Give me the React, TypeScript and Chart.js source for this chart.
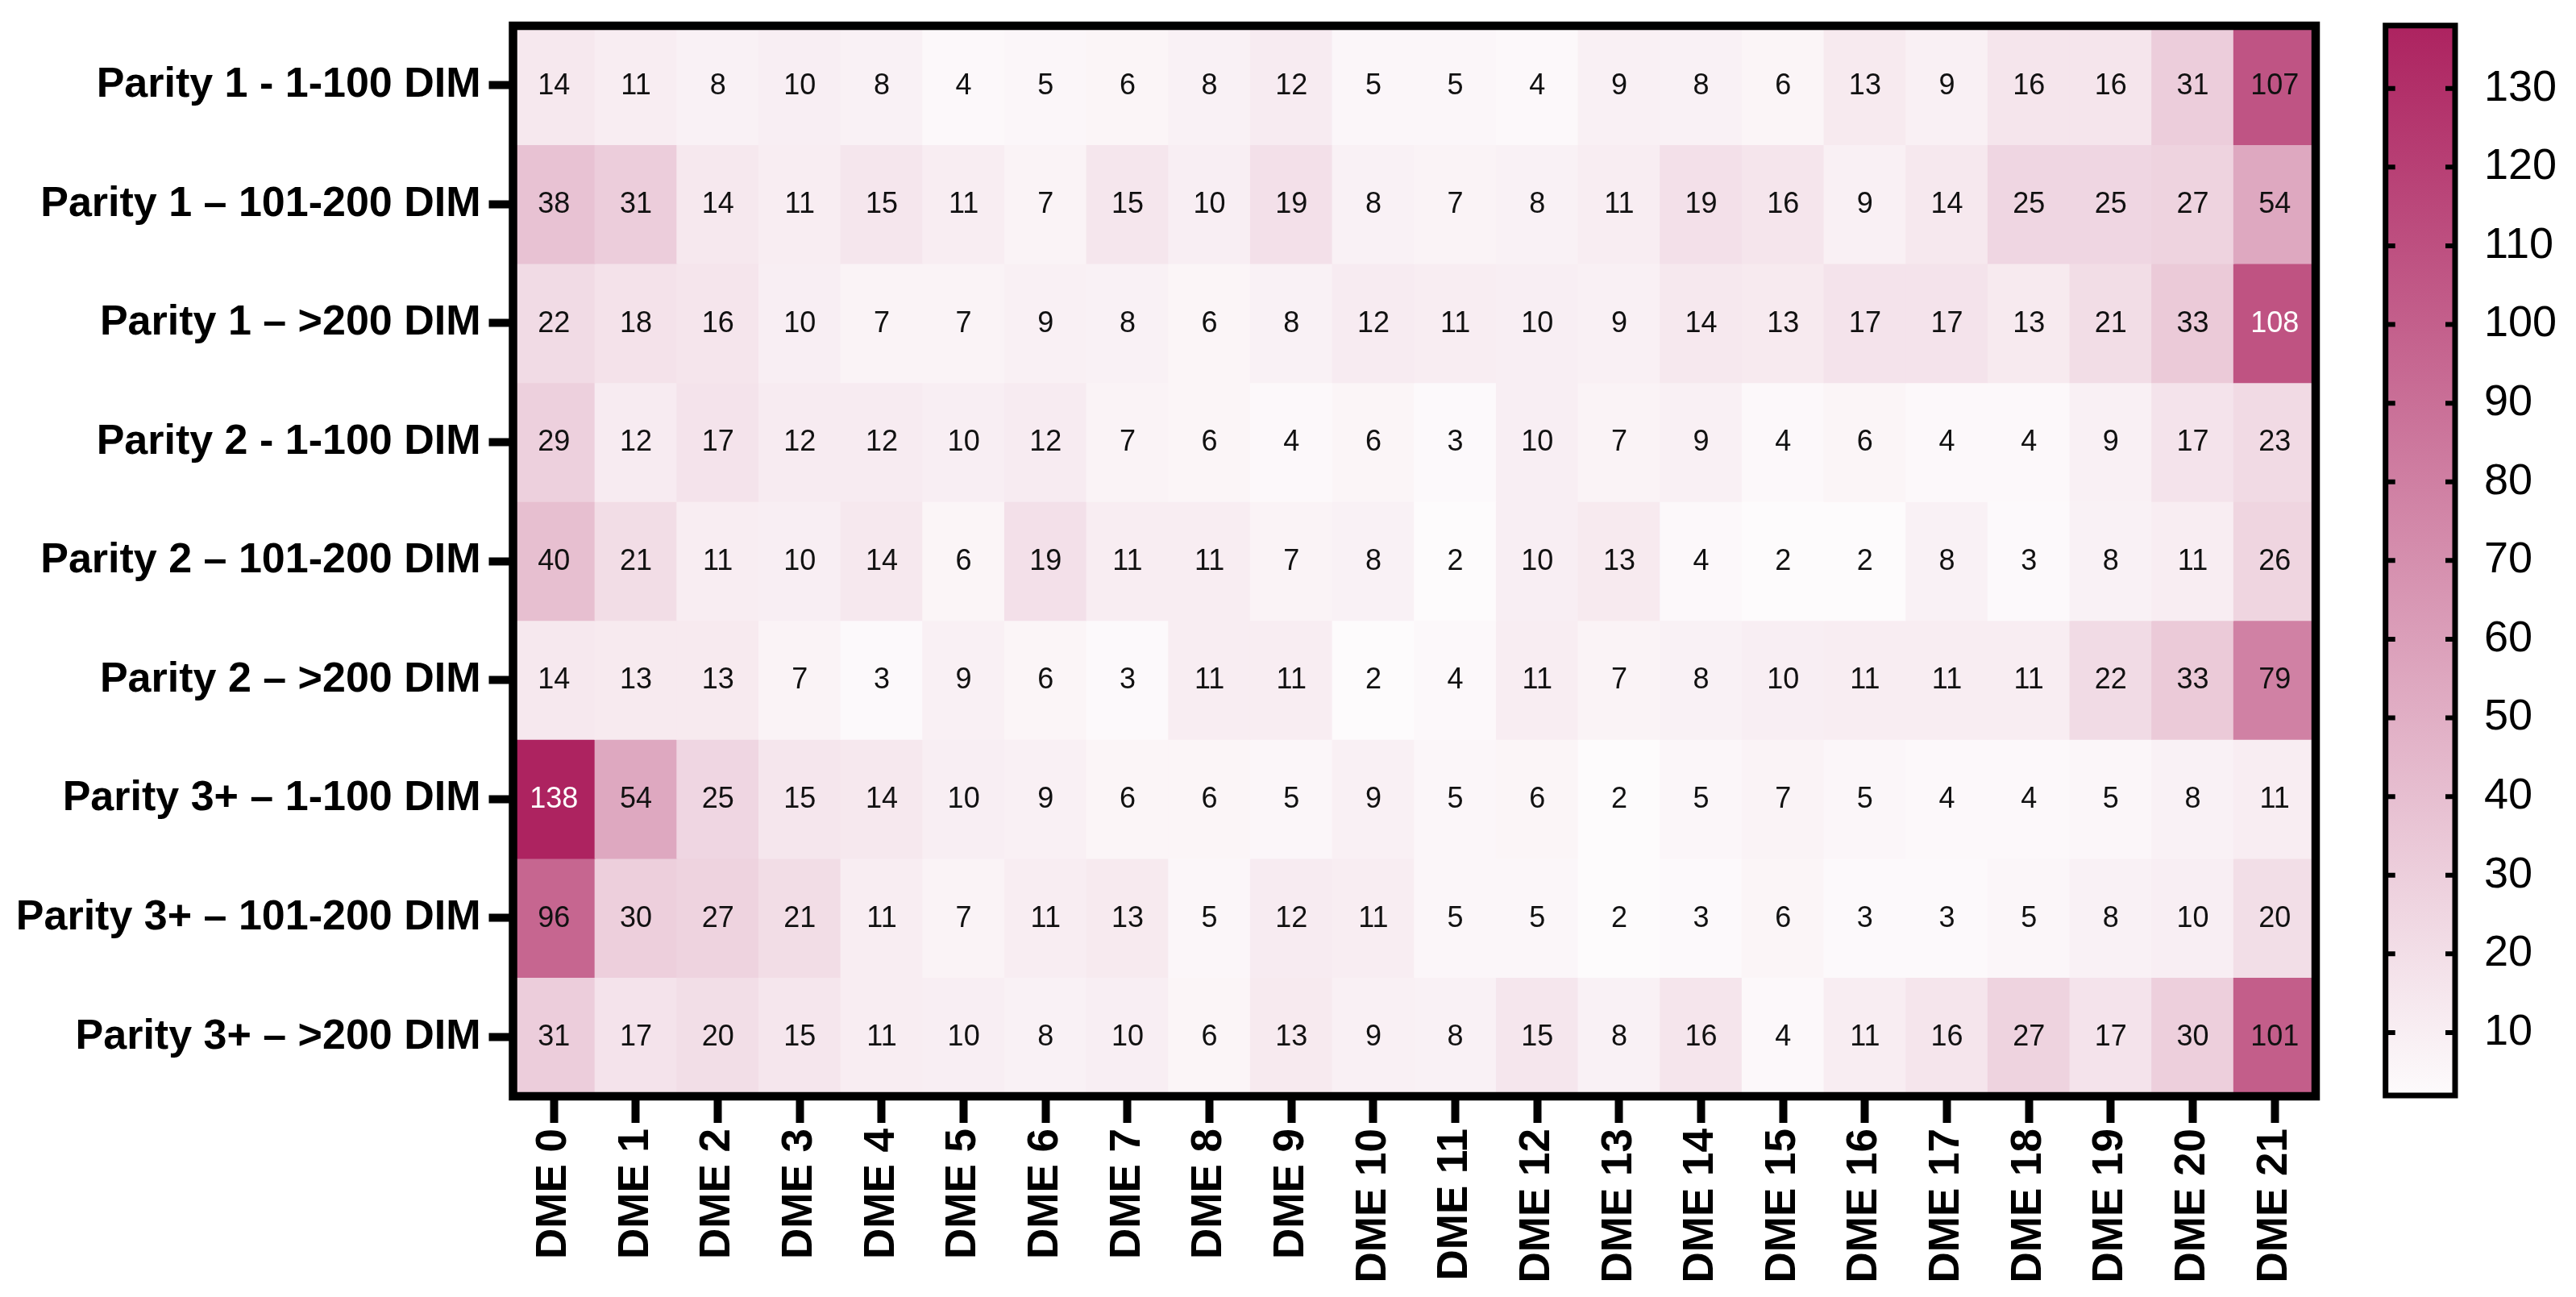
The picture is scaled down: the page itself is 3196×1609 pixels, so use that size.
import React, { useEffect, useRef } from "react";
import { Chart, registerables } from "chart.js";

Chart.register(...registerables);

// ---------- data ----------
const colLabels = [
  "DME 0", "DME 1", "DME 2", "DME 3", "DME 4", "DME 5", "DME 6", "DME 7",
  "DME 8", "DME 9", "DME 10", "DME 11", "DME 12", "DME 13", "DME 14", "DME 15",
  "DME 16", "DME 17", "DME 18", "DME 19", "DME 20", "DME 21",
];

const rowLabels = [
  "Parity 1 - 1-100 DIM",
  "Parity 1 – 101-200 DIM",
  "Parity 1 – >200 DIM",
  "Parity 2 - 1-100 DIM",
  "Parity 2 – 101-200 DIM",
  "Parity 2 – >200 DIM",
  "Parity 3+ – 1-100 DIM",
  "Parity 3+ – 101-200 DIM",
  "Parity 3+ – >200 DIM",
];

const p1Early = [14, 11, 8, 10, 8, 4, 5, 6, 8, 12, 5, 5, 4, 9, 8, 6, 13, 9, 16, 16, 31, 107];
const p1Mid = [38, 31, 14, 11, 15, 11, 7, 15, 10, 19, 8, 7, 8, 11, 19, 16, 9, 14, 25, 25, 27, 54];
const p1Late = [22, 18, 16, 10, 7, 7, 9, 8, 6, 8, 12, 11, 10, 9, 14, 13, 17, 17, 13, 21, 33, 108];
const p2Early = [29, 12, 17, 12, 12, 10, 12, 7, 6, 4, 6, 3, 10, 7, 9, 4, 6, 4, 4, 9, 17, 23];
const p2Mid = [40, 21, 11, 10, 14, 6, 19, 11, 11, 7, 8, 2, 10, 13, 4, 2, 2, 8, 3, 8, 11, 26];
const p2Late = [14, 13, 13, 7, 3, 9, 6, 3, 11, 11, 2, 4, 11, 7, 8, 10, 11, 11, 11, 22, 33, 79];
const p3Early = [138, 54, 25, 15, 14, 10, 9, 6, 6, 5, 9, 5, 6, 2, 5, 7, 5, 4, 4, 5, 8, 11];
const p3Mid = [96, 30, 27, 21, 11, 7, 11, 13, 5, 12, 11, 5, 5, 2, 3, 6, 3, 3, 5, 8, 10, 20];
const p3Late = [31, 17, 20, 15, 11, 10, 8, 10, 6, 13, 9, 8, 15, 8, 16, 4, 11, 16, 27, 17, 30, 101];

const values = [p1Early, p1Mid, p1Late, p2Early, p2Mid, p2Late, p3Early, p3Mid, p3Late];

const colorbarTicks = [10, 20, 30, 40, 50, 60, 70, 80, 90, 100, 110, 120, 130];
const CB_MIN = 2;
const CB_MAX = 138;
const WHITE_TEXT_FROM = 108;

// ---------- styling ----------
const LOW_RGB = [253, 251, 252];
const HIGH_RGB = [173, 35, 96];
const FONT = "'Liberation Sans', Arial, Helvetica, sans-serif";

const W = 3196;
const H = 1609;
const MAIN_W = 2900;
const PLOT_LEFT = 636.5;
const PLOT_RIGHT = 2873;
const PLOT_TOP = 32;
const PLOT_BOTTOM = 1360;

function colorFor(v: number): string {
  let t = (v - CB_MIN) / (CB_MAX - CB_MIN);
  t = Math.max(0, Math.min(1, t));
  const c = LOW_RGB.map((lo, k) => Math.round(lo + (HIGH_RGB[k] - lo) * t));
  return `rgb(${c[0]},${c[1]},${c[2]})`;
}

function zeroPadding(s: any) {
  s.paddingTop = 0;
  s.paddingBottom = 0;
  s.paddingLeft = 0;
  s.paddingRight = 0;
}

const cellTextPlugin = {
  id: "cellText",
  afterDatasetsDraw(chart: any) {
    const ctx = chart.ctx;
    ctx.save();
    ctx.font = `36px ${FONT}`;
    ctx.textAlign = "center";
    ctx.textBaseline = "middle";
    values.forEach((row, i) => {
      const meta = chart.getDatasetMeta(i);
      meta.data.forEach((bar: any, j: number) => {
        const p = bar.getProps(["x", "y", "base"], true);
        ctx.fillStyle = row[j] >= WHITE_TEXT_FROM ? "#ffffff" : "#111111";
        ctx.fillText(String(row[j]), p.x, (p.y + p.base) / 2 + 1);
      });
    });
    ctx.restore();
  },
};

const frameMainPlugin = {
  id: "frameMain",
  afterDraw(chart: any) {
    const { left, top, right, bottom } = chart.chartArea;
    const ctx = chart.ctx;
    ctx.save();
    ctx.strokeStyle = "#000";
    ctx.lineWidth = 10.5;
    ctx.lineJoin = "miter";
    ctx.strokeRect(left, top, right - left, bottom - top);
    ctx.restore();
  },
};

const colorbarFramePlugin = {
  id: "cbFrame",
  afterDatasetsDraw(chart: any) {
    const { left, top, right, bottom } = chart.chartArea;
    const ctx = chart.ctx;
    const ys = chart.scales.y;
    ctx.save();
    ctx.strokeStyle = "#000";
    ctx.lineWidth = 6;
    colorbarTicks.forEach((v) => {
      const y = ys.getPixelForValue(v);
      ctx.beginPath();
      ctx.moveTo(left, y);
      ctx.lineTo(left + 12, y);
      ctx.moveTo(right - 12, y);
      ctx.lineTo(right, y);
      ctx.stroke();
    });
    ctx.lineWidth = 7;
    ctx.strokeRect(left, top, right - left, bottom - top);
    ctx.restore();
  },
};

export default function App() {
  const mainRef = useRef<HTMLCanvasElement | null>(null);
  const cbRef = useRef<HTMLCanvasElement | null>(null);

  useEffect(() => {
    if (!mainRef.current || !cbRef.current) return;

    const main = new Chart(mainRef.current, {
      type: "bar",
      data: {
        labels: colLabels,
        datasets: values.map((row, i) => ({
          label: rowLabels[i],
          data: row.map(() => [i, i + 1]),
          backgroundColor: row.map(colorFor),
          borderWidth: 0,
          grouped: false,
          barPercentage: 1,
          categoryPercentage: 1,
          inflateAmount: 0.5,
        })) as any,
      },
      options: {
        animation: false,
        responsive: false,
        devicePixelRatio: 1,
        events: [],
        layout: {
          padding: { left: 0, top: PLOT_TOP, right: MAIN_W - PLOT_RIGHT, bottom: 0 },
        },
        plugins: {
          legend: { display: false },
          tooltip: { enabled: false },
        },
        scales: {
          x: {
            type: "category",
            offset: true,
            grid: {
              offset: false,
              drawOnChartArea: false,
              drawTicks: true,
              tickLength: 33,
              tickWidth: 10,
              tickColor: "#000",
            },
            border: { display: false },
            ticks: {
              autoSkip: false,
              minRotation: 90,
              maxRotation: 90,
              padding: 7,
              color: "#000",
              font: { family: FONT, size: 53, weight: "bold" },
            },
            afterFit: (s: any) => {
              s.height = H - PLOT_BOTTOM;
              zeroPadding(s);
            },
          },
          y: {
            type: "linear",
            min: 0,
            max: rowLabels.length,
            reverse: true,
            grid: {
              drawOnChartArea: false,
              drawTicks: true,
              tickLength: 30,
              tickWidth: 10,
              tickColor: "#000",
            },
            border: { display: false },
            ticks: {
              autoSkip: false,
              padding: 10,
              color: "#000",
              font: { family: FONT, size: 52, weight: "bold" },
              callback: (_v: any, idx: number) => rowLabels[idx],
            },
            afterBuildTicks: (s: any) => {
              s.ticks = rowLabels.map((_, i) => ({ value: i + 0.5 }));
            },
            afterFit: (s: any) => {
              s.width = PLOT_LEFT;
              zeroPadding(s);
            },
          },
        },
      } as any,
      plugins: [cellTextPlugin, frameMainPlugin],
    });

    const cbLeft = 2959.7 - MAIN_W;
    const cbRight = 3046 - MAIN_W;
    const cbWidth = W - MAIN_W;

    const cb = new Chart(cbRef.current, {
      type: "bar",
      data: {
        labels: [""],
        datasets: [
          {
            data: [[CB_MIN, CB_MAX]] as any,
            backgroundColor: (c: any) => {
              const chart = c.chart;
              const ys = chart.scales && chart.scales.y;
              if (!chart.chartArea || !ys) return colorFor(CB_MAX);
              const g = chart.ctx.createLinearGradient(
                0,
                ys.getPixelForValue(CB_MIN),
                0,
                ys.getPixelForValue(CB_MAX)
              );
              g.addColorStop(0, colorFor(CB_MIN));
              g.addColorStop(1, colorFor(CB_MAX));
              return g;
            },
            borderWidth: 0,
            barPercentage: 1,
            categoryPercentage: 1,
          },
        ],
      },
      options: {
        animation: false,
        responsive: false,
        devicePixelRatio: 1,
        events: [],
        layout: {
          padding: { left: cbLeft, top: 31.7, right: 0, bottom: H - 1359 },
        },
        plugins: {
          legend: { display: false },
          tooltip: { enabled: false },
        },
        scales: {
          x: { display: false },
          y: {
            position: "right",
            min: CB_MIN,
            max: CB_MAX,
            grid: { display: false, drawTicks: false },
            border: { display: false },
            ticks: {
              autoSkip: false,
              padding: 36,
              color: "#000",
              font: { family: FONT, size: 54 },
            },
            afterBuildTicks: (s: any) => {
              s.ticks = colorbarTicks.map((v) => ({ value: v }));
            },
            afterFit: (s: any) => {
              s.width = cbWidth - cbRight;
              zeroPadding(s);
            },
          },
        },
      } as any,
      plugins: [colorbarFramePlugin],
    });

    return () => {
      main.destroy();
      cb.destroy();
    };
  }, []);

  return (
    <div
      style={{
        position: "absolute",
        left: 0,
        top: 0,
        width: W,
        height: H,
        background: "#fff",
        overflow: "hidden",
      }}
    >
      <canvas
        ref={mainRef}
        width={MAIN_W}
        height={H}
        style={{ position: "absolute", left: 0, top: 0, width: MAIN_W, height: H }}
      />
      <canvas
        ref={cbRef}
        width={W - MAIN_W}
        height={H}
        style={{ position: "absolute", left: MAIN_W, top: 0, width: W - MAIN_W, height: H }}
      />
    </div>
  );
}
